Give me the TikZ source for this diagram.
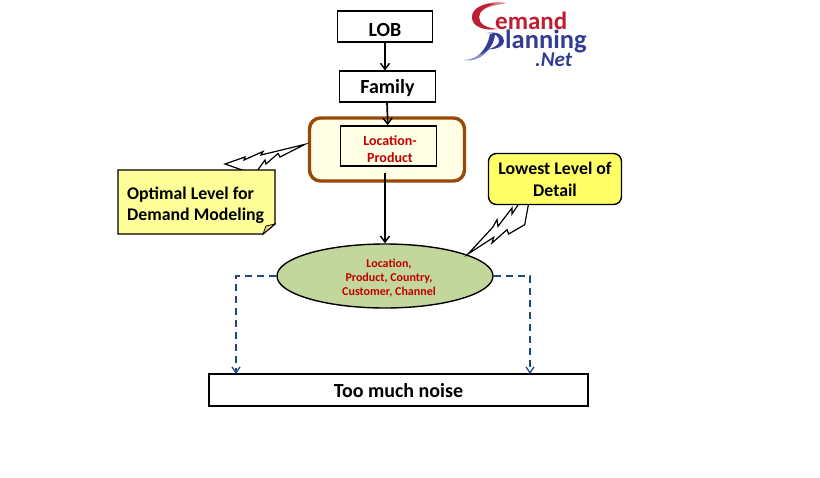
\documentclass[tikz,border=0pt]{standalone}
\usepackage{fontspec}
\setmainfont{Carlito}
\usetikzlibrary{arrows.meta,calc,shapes.geometric}
\definecolor{brownb}{RGB}{152,72,6}
\definecolor{creamf}{RGB}{255,255,229}
\definecolor{notey}{RGB}{255,255,153}
\definecolor{lowy}{RGB}{255,255,102}
\definecolor{ellg}{RGB}{195,214,155}
\definecolor{redt}{RGB}{192,0,0}
\definecolor{dashb}{RGB}{31,73,125}
\definecolor{logor}{RGB}{190,30,50}
\definecolor{logob}{RGB}{50,60,150}
\tikzset{
  boxn/.style={draw=black,line width=1.6pt,fill=white,inner sep=0pt,align=center,font=\bfseries\fontsize{20}{22}\selectfont},
  flow/.style={draw=black,line width=1.7pt,-{Straight Barb[length=6pt,width=9pt,line width=1.5pt]}},
  dashflow/.style={draw=dashb,line width=1.4pt,dash pattern=on 7pt off 5pt,-{Straight Barb[length=6pt,width=8pt,line width=1.3pt]}},
  redtext/.style={text=redt,font=\bfseries,align=center,inner sep=0pt},
  bolt/.style={draw=black,line width=1.2pt,fill=white,line join=miter},
  logotext/.style={inner sep=0pt,anchor=base west,font=\bfseries}
}
\begin{document}
\begin{tikzpicture}[x=1pt,y=-1pt]
\useasboundingbox (0,0) rectangle (820,477);
% logo
\fill[logor!60] (507,3) .. controls (490,0) and (472,6) .. (472,17) .. controls (472,26) and (483,31) .. (497,29) .. controls (486,28) and (479,24) .. (479,17) .. controls (479,9) and (492,5) .. (507,3) -- cycle;
\fill[logor] (496,3.5) .. controls (484,3) and (472,8) .. (472,17) .. controls (472,26) and (483,31) .. (497,29) .. controls (486,28) and (479,24) .. (479,17) .. controls (479,11) and (486,6) .. (496,3.5) -- cycle;
\fill[logob!55] (463,60) .. controls (476,60) and (486,52) .. (490,34) -- (495,34) .. controls (493,50) and (480,63) .. (463,60) -- cycle;
\fill[logob] (490,34) .. controls (489,42) and (485,50) .. (479,55) .. controls (488,52) and (494,45) .. (495,34) -- cycle;
\fill[logob] (487,33) .. controls (497,31) and (504,35) .. (504,41) .. controls (504,46) and (498,49) .. (488,49.5) .. controls (495,47) and (499,45) .. (499,41) .. controls (499,36) and (495,33) .. (487,33) -- cycle;
\node[logotext,text=logor,font=\bfseries\fontsize{25}{25}\selectfont] (logoa) at (495,29) {emand};
\node[logotext,text=logob,font=\bfseries\fontsize{26.5}{26}\selectfont] (logob) at (505,48) {lanning};
\node[logotext,text=logob,font=\itshape\bfseries\fontsize{21}{22}\selectfont] (logoc) at (535,66) {.Net};
% container
\node[draw=brownb,line width=3.4pt,fill=creamf,rounded corners=11pt,minimum width=155pt,minimum height=63pt,inner sep=0pt] (cont) at (387,149.5) {};
% boxes
\node[boxn,minimum width=95pt,minimum height=31pt,text height=19pt,text depth=0pt] (lob) at (385,26.5) {LOB};
\node[boxn,minimum width=96pt,minimum height=31pt,text height=13pt,text depth=0pt] (fam) at (387.5,86.5) {Family};
\node[draw=black,line width=1.5pt,fill=creamf,minimum width=96pt,minimum height=40pt,inner sep=0pt] (lp) at (388.5,146) {};
\node[redtext,font=\bfseries\fontsize{14}{17}\selectfont] (lptext) at (390,149) {Location-\\Product};
\node[draw=black,line width=1.4pt,fill=ellg,ellipse,minimum width=216pt,minimum height=64pt,inner sep=0pt] (ell) at (385,276) {};
\node[redtext,font=\bfseries\fontsize{12}{14.2}\selectfont] (elltext) at (389,278) {Location,\\Product, Country,\\Customer, Channel};
\node[boxn,minimum width=379pt,minimum height=32pt,text height=15pt,text depth=0pt] (noise) at (398.5,390) {Too much noise};
% bolts
\draw[bolt] (225,164) -- (245,157) -- (244,160) -- (263,151.5) -- (261,155) -- (305,144.3) -- (280,157) -- (278,153.5) -- (266,164) -- (265,160) -- (257,171) -- (245,171) -- cycle;
\draw[bolt] (468,254) -- (492.7,227.3) -- (497,219.7) -- (498,226.3) -- (512,208) -- (512,214) -- (519.3,203) -- (528.7,203) -- (524.7,224.7) -- (508.7,234) -- (507,229.7) -- (492,243) -- (493.7,237.3) -- cycle;
% note
\draw[draw=black,line width=1.4pt,fill=notey] (118,170) -- (275,170) -- (275,224) -- (263,234) -- (118,234) -- cycle;
\draw[draw=black,line width=.8pt,fill=notey!70!brown] (263,234) -- (266,226) -- (275,224) -- cycle;
\node[inner sep=0pt,anchor=west,align=left,font=\bfseries\fontsize{17.8}{21}\selectfont] (note) at (127,205) {Optimal Level for\\Demand Modeling};
% callout
\node[draw=black,line width=1.4pt,fill=lowy,rounded corners=8pt,minimum width=133pt,minimum height=51pt,inner sep=0pt,align=center,font=\bfseries\fontsize{17.8}{22}\selectfont] (low) at (555,179) {Lowest Level of\\Detail};
% arrows
\draw[flow] (lob) -- (385,70.5);
\draw[flow] (387,102) -- (lp);
\draw[flow] (385,173) -- (ell);
\draw[dashflow] (ell.west) -- (236,276) -- (236,374);
\draw[dashflow] (ell.east) -- (530,276) -- (530,374);
\end{tikzpicture}
\end{document}
